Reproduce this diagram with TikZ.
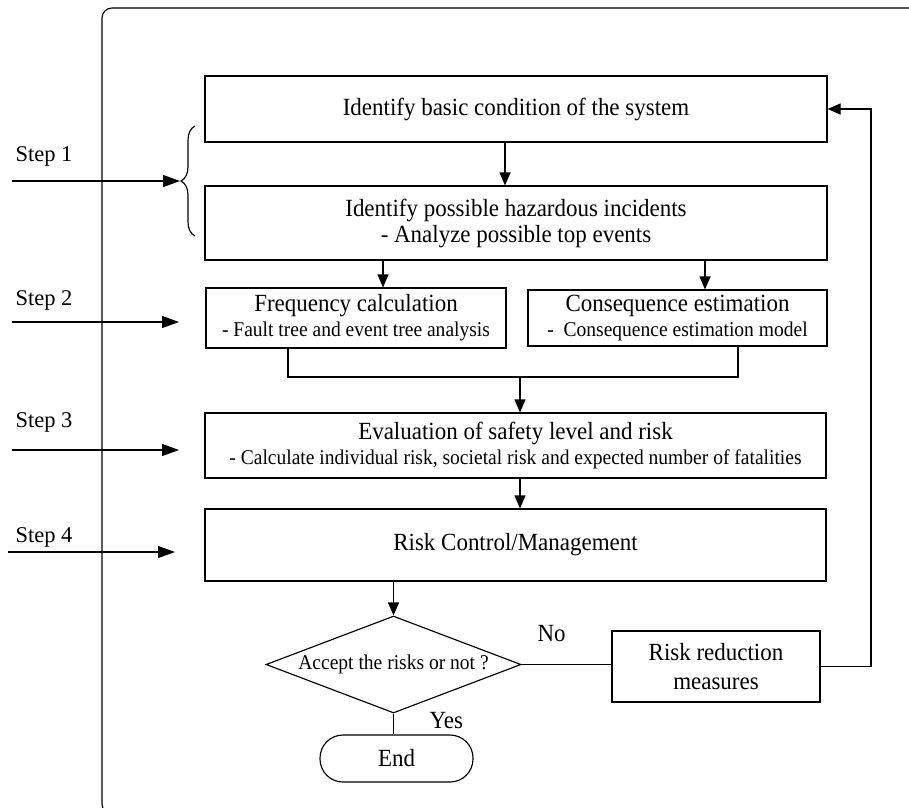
\documentclass[tikz,border=0pt]{standalone}
\usepackage{fontspec}
\setmainfont{Liberation Serif}
\newfontfamily\narrowserif{Liberation Serif}[FakeStretch=0.93]
\usetikzlibrary{shapes.geometric,arrows.meta,decorations.pathreplacing}

\newcommand{\titlesize}{\narrowserif\fontsize{24.7}{29}\selectfont}
\newcommand{\notesize}{\narrowserif\fontsize{21}{25}\selectfont}

\begin{document}
\begin{tikzpicture}[x=1pt,y=-1pt,line width=1.15pt,
  box/.style={draw, rectangle, inner sep=0pt, align=center, font=\titlesize},
  arr/.style={-{Triangle[length=13pt,width=11pt]}},
  steparr/.style={-{Triangle[length=17pt,width=12pt]}},
  steplabel/.style={anchor=base west, inner sep=0pt,
    font=\fontsize{22.5}{27}\selectfont},
  lbl/.style={inner sep=0pt, font=\titlesize}
]
\useasboundingbox (0,0) rectangle (909,807);

% frame around the procedure
\begin{scope}
  \clip (0,0) rectangle (909,807);
  \draw[rounded corners=10pt] (930,8) -- (102,8) -- (102,814) -- (930,814);
\end{scope}

% process boxes
\node[box, minimum width=622pt, minimum height=66pt] (ident) at (516,109)
  {Identify basic condition of the system};
\node[box, minimum width=622pt, minimum height=74pt] (hazard) at (516,223)
  {Identify possible hazardous incidents\\[-3pt]- Analyze possible top events};
\node[box, minimum width=300pt, minimum height=60pt] (freq) at (356,318)
  {Frequency calculation\\[-4pt]{\notesize - Fault tree and event tree analysis}};
\node[box, minimum width=299pt, minimum height=56pt] (cons) at (677.5,318)
  {Consequence estimation\\[-4pt]{\notesize -\ \ Consequence estimation model}};
\node[box, minimum width=621pt, minimum height=65pt] (eval) at (515.5,445.5)
  {Evaluation of safety level and risk\\[-4pt]{\notesize - Calculate individual risk, societal risk and expected number of fatalities}};
\node[box, minimum width=621pt, minimum height=72pt] (rc) at (515.5,545)
  {Risk Control/Management};
\node[draw, shape=diamond, inner sep=0pt, aspect=2.63,
  minimum width=255pt, minimum height=97pt, font=\notesize] (accept) at (393.5,664.5)
  {Accept the risks or not ?};
\node[box, minimum width=208pt, minimum height=71pt] (reduce) at (716,666.5)
  {Risk reduction\\[0pt]measures};
\node[draw, rectangle, rounded corners=23pt, inner sep=0pt,
  minimum width=153pt, minimum height=47pt, font=\titlesize] (stop) at (396.5,758.5) {End};

% branch labels
\node[lbl, anchor=base west] (nolbl) at (537,641) {No};
\node[lbl, anchor=base west] (yeslbl) at (429,728) {Yes};

% flow connectors
\draw[arr] ([xshift=-11pt]ident.south) -- ([xshift=-11pt]hazard.north);
\draw[arr] ([xshift=27pt]freq.north |- hazard.south) -- ([xshift=27pt]freq.north);
\draw[arr] ([xshift=27.5pt]cons.north |- hazard.south) -- ([xshift=27.5pt]cons.north);
\coordinate (merge) at (520,377);
\draw ([xshift=-68pt]freq.south) |- (merge) -| ([xshift=60.5pt]cons.south);
\draw[arr] (merge) -- (merge |- eval.north);
\draw[arr] ([xshift=4.5pt]eval.south) -- ([xshift=4.5pt]rc.north);
\draw[arr] (rc.south -| accept.north) -- (accept.north);
\draw (accept.east) -- (accept.east -| reduce.west);
\draw (accept.south) -- (accept.south |- stop.north);
\coordinate (loop) at (871,666.5);
\draw[arr] (reduce.east) -- (loop) |- (ident.east);

% step markers on the left
\draw[decorate, decoration={brace, amplitude=14pt}] (195,236) -- (195,126);
\coordinate (bracetip) at (180,181);

\node[steplabel] (s1) at (15,161) {Step 1};
\node[steplabel] (s2) at (15,305) {Step 2};
\node[steplabel] (s3) at (15,427) {Step 3};
\node[steplabel] (s4) at (15,542) {Step 4};

\coordinate (s1a) at (12,181);
\coordinate (s2a) at (12,322);  \coordinate (s2b) at (179,322);
\coordinate (s3a) at (12,450);  \coordinate (s3b) at (179,450);
\coordinate (s4a) at (8,552);   \coordinate (s4b) at (175,552);

\draw[steparr] (s1a) -- (bracetip);
\draw[steparr] (s2a) -- (s2b);
\draw[steparr] (s3a) -- (s3b);
\draw[steparr] (s4a) -- (s4b);
\end{tikzpicture}
\end{document}
